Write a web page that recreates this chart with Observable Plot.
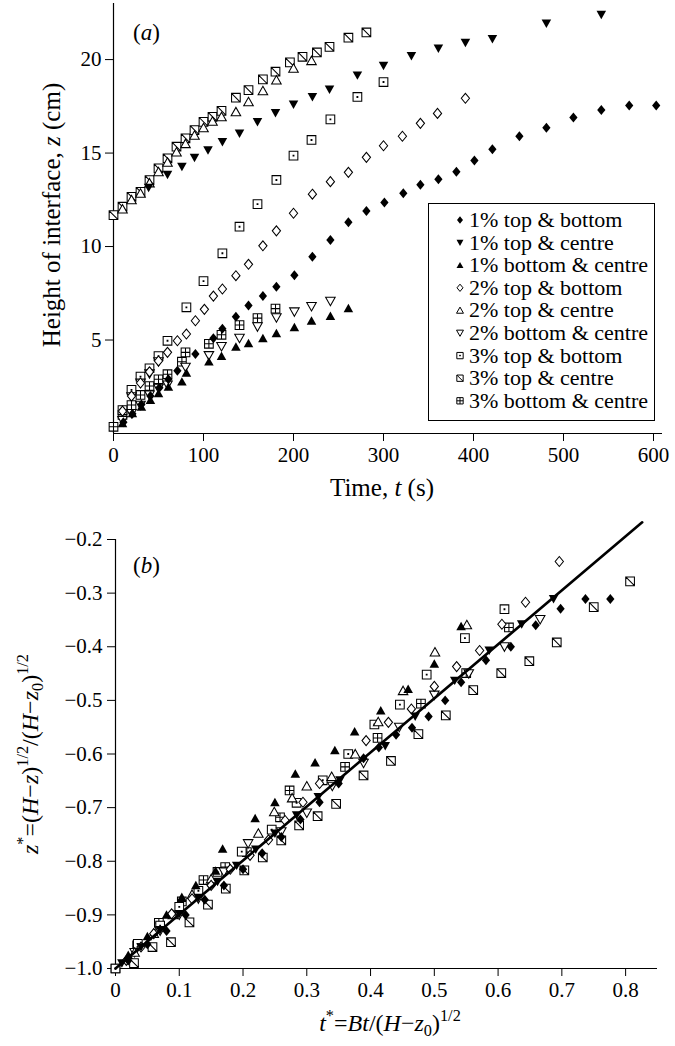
<!DOCTYPE html>
<html>
<head>
<meta charset="utf-8">
<script src="https://cdn.jsdelivr.net/npm/d3@7"></script>
<script src="https://cdn.jsdelivr.net/npm/@observablehq/plot@0.6"></script>
<style>
  html, body { margin: 0; padding: 0; background: #fff; }
  #chart { width: 675px; }
  #chart svg { display: block; }
</style>
</head>
<body>
<div id="chart"></div>
<script>
// ---------- labels ----------
const seriesLabels = ["1% top & bottom", "1% top & centre", "1% bottom & centre",
  "2% top & bottom", "2% top & centre", "2% bottom & centre",
  "3% top & bottom", "3% top & centre", "3% bottom & centre"];

// ---------- panel (a): Time t (s) vs height z (cm) ----------
const tA1 = [11, 21, 31, 41, 51, 61, 71, 91, 111, 121, 136, 150, 166, 181, 201, 221, 241, 261, 281, 301, 322, 341, 361, 381, 401, 421, 451, 481, 511, 542, 573, 603];
const zA1 = [0.6, 1.05, 1.55, 2.0, 2.45, 2.9, 3.36, 4.25, 5.09, 5.6, 6.25, 6.85, 7.35, 7.85, 8.46, 9.46, 10.35, 11.3, 11.9, 12.35, 12.85, 13.3, 13.6, 14.0, 14.6, 15.2, 15.9, 16.35, 16.9, 17.3, 17.55, 17.55];
const tA2 = [39, 60, 76, 90, 105, 121, 140, 160, 180, 200, 221, 240, 271, 300, 331, 361, 391, 421, 481, 542];
const zA2 = [13.15, 13.85, 14.27, 14.75, 15.16, 15.6, 16.05, 16.66, 17.15, 17.6, 18.0, 18.4, 19.16, 19.67, 20.2, 20.6, 20.9, 21.1, 21.93, 22.4];
const tA3 = [10, 21, 31, 41, 50, 61, 76, 81, 106, 120, 136, 150, 166, 181, 201, 220, 241, 261];
const zA3 = [0.55, 1.08, 1.43, 1.79, 2.15, 2.5, 2.77, 3.25, 3.84, 4.14, 4.64, 4.82, 5.09, 5.36, 5.68, 6.03, 6.28, 6.7];
const tA4 = [10, 20, 30, 40, 50, 60, 71, 81, 91, 101, 111, 121, 136, 150, 166, 181, 200, 221, 241, 261, 281, 300, 321, 341, 360, 391];
const zA4 = [1.2, 2.0, 2.7, 3.3, 3.88, 4.34, 4.96, 5.32, 6.03, 6.64, 7.35, 7.73, 8.44, 9.05, 10.04, 10.84, 11.78, 12.8, 13.47, 13.97, 14.77, 15.39, 15.9, 16.59, 17.12, 17.93];
const tA5 = [10, 20, 30, 40, 50, 60, 70, 80, 90, 100, 110, 120, 136, 150, 166, 181, 200, 220];
const zA5 = [12.0, 12.5, 12.85, 13.4, 14.0, 14.5, 15.05, 15.5, 15.95, 16.35, 16.7, 16.94, 17.2, 17.74, 18.33, 18.9, 19.53, 19.94];
const tA6 = [10, 20, 20, 30, 30, 40, 40, 50, 50, 60, 80, 106, 120, 140, 160, 181, 201, 220, 241];
const zA6 = [0.7, 1.08, 1.97, 1.52, 2.7, 2.06, 3.2, 2.42, 3.84, 2.6, 3.55, 4.17, 4.66, 5.1, 5.71, 6.2, 6.51, 6.8, 7.08];
const tA7 = [10, 20, 30, 40, 50, 60, 81, 100, 121, 140, 160, 181, 200, 220, 241, 271, 300];
const zA7 = [1.25, 2.33, 3.04, 3.49, 4.14, 4.96, 6.75, 8.15, 9.64, 11.06, 12.27, 13.56, 14.86, 15.7, 16.8, 18.0, 18.8];
const tA8 = [0, 10, 20, 30, 40, 50, 60, 70, 80, 90, 100, 110, 120, 136, 150, 166, 180, 196, 210, 226, 240, 261, 281];
const zA8 = [11.68, 12.13, 12.66, 12.93, 13.55, 14.18, 14.72, 15.34, 15.79, 16.23, 16.67, 16.94, 17.26, 17.96, 18.37, 18.94, 19.35, 19.85, 20.15, 20.38, 20.68, 21.17, 21.45];
const tA9 = [0, 10, 20, 30, 40, 50, 60, 76, 80, 106, 120, 140, 160, 180];
const zA9 = [0.36, 0.99, 1.52, 2.06, 2.54, 2.9, 3.17, 3.84, 4.34, 4.8, 5.28, 5.8, 6.17, 6.68];

const xTicksA = [0, 100, 200, 300, 400, 500, 600];
const yTicksA = [5, 10, 15, 20];

// ---------- panel (b): t* vs z* ----------
const tB1 = [0.02, 0.05, 0.08, 0.11, 0.14, 0.17, 0.2, 0.23, 0.26, 0.29, 0.32, 0.35, 0.389, 0.413, 0.44, 0.465, 0.491, 0.517, 0.542, 0.581, 0.62, 0.659, 0.698, 0.737, 0.776];
const zB1 = [-0.985, -0.955, -0.93, -0.9, -0.872, -0.845, -0.815, -0.785, -0.755, -0.722, -0.69, -0.655, -0.608, -0.588, -0.564, -0.551, -0.53, -0.5, -0.466, -0.425, -0.4, -0.36, -0.329, -0.311, -0.311];
const tB2 = [0.01, 0.04, 0.07, 0.1, 0.13, 0.16, 0.19, 0.22, 0.25, 0.284, 0.318, 0.352, 0.423, 0.47, 0.532, 0.586, 0.637, 0.687];
const zB2 = [-0.99, -0.96, -0.928, -0.898, -0.868, -0.838, -0.808, -0.778, -0.748, -0.714, -0.68, -0.649, -0.585, -0.53, -0.463, -0.407, -0.358, -0.311];
const tB3 = [0.02, 0.05, 0.08, 0.104, 0.126, 0.157, 0.168, 0.219, 0.25, 0.282, 0.313, 0.344, 0.375, 0.416, 0.459, 0.5, 0.542];
const zB3 = [-0.975, -0.94, -0.9, -0.867, -0.845, -0.818, -0.777, -0.72, -0.69, -0.637, -0.616, -0.593, -0.558, -0.519, -0.479, -0.432, -0.362];
const tB4 = [0.017, 0.04, 0.06, 0.088, 0.12, 0.15, 0.18, 0.211, 0.24, 0.266, 0.294, 0.32, 0.393, 0.428, 0.464, 0.5, 0.535, 0.571, 0.606, 0.643, 0.696];
const zB4 = [-0.985, -0.96, -0.935, -0.898, -0.87, -0.845, -0.815, -0.789, -0.76, -0.724, -0.69, -0.655, -0.575, -0.541, -0.516, -0.474, -0.437, -0.407, -0.358, -0.317, -0.241];
const tB5 = [0.03, 0.06, 0.09, 0.12, 0.15, 0.224, 0.249, 0.277, 0.3, 0.339, 0.376, 0.412, 0.451, 0.501, 0.551];
const zB5 = [-0.97, -0.935, -0.9, -0.862, -0.833, -0.748, -0.708, -0.682, -0.66, -0.642, -0.6, -0.54, -0.482, -0.41, -0.359];
const tB6 = [0.03, 0.07, 0.1, 0.13, 0.17, 0.208, 0.26, 0.3, 0.34, 0.389, 0.445, 0.5, 0.554, 0.61, 0.666];
const zB6 = [-0.97, -0.93, -0.9, -0.87, -0.82, -0.767, -0.745, -0.71, -0.66, -0.617, -0.55, -0.49, -0.45, -0.4, -0.349];
const tB7 = [0, 0.035, 0.07, 0.1, 0.13, 0.16, 0.198, 0.245, 0.284, 0.325, 0.365, 0.406, 0.446, 0.488, 0.548, 0.61];
const zB7 = [-1.0, -0.954, -0.92, -0.885, -0.855, -0.82, -0.782, -0.741, -0.691, -0.649, -0.6, -0.545, -0.508, -0.452, -0.384, -0.33];
const tB8 = [0.029, 0.058, 0.087, 0.116, 0.145, 0.173, 0.202, 0.231, 0.26, 0.288, 0.317, 0.346, 0.389, 0.432, 0.475, 0.518, 0.561, 0.605, 0.649, 0.692, 0.75, 0.807];
const zB8 = [-0.99, -0.96, -0.951, -0.914, -0.881, -0.851, -0.817, -0.793, -0.761, -0.733, -0.716, -0.693, -0.64, -0.613, -0.563, -0.528, -0.481, -0.449, -0.427, -0.392, -0.326, -0.278];
const tB9 = [0, 0.034, 0.068, 0.104, 0.138, 0.172, 0.206, 0.258, 0.273, 0.36, 0.411, 0.479, 0.55, 0.617];
const zB9 = [-1.0, -0.957, -0.915, -0.875, -0.835, -0.811, -0.783, -0.718, -0.668, -0.624, -0.57, -0.506, -0.449, -0.364];

// fitted line (end points)
const fitT = [0, 0.826];
const fitZ = [-1.0, -0.168];

const xTicksB = [0, 0.1, 0.2, 0.3, 0.4, 0.5, 0.6, 0.7, 0.8];
const yTicksB = [-1.0, -0.9, -0.8, -0.7, -0.6, -0.5, -0.4, -0.3, -0.2];

// ---------- custom symbols ----------
function sq(c, h) { c.moveTo(-h, -h); c.lineTo(h, -h); c.lineTo(h, h); c.lineTo(-h, h); c.closePath(); }
const symDiamond = { draw(c, s) { const h = Math.sqrt(s) / 2; c.moveTo(0, -h * 1.15); c.lineTo(h * 0.95, 0); c.lineTo(0, h * 1.15); c.lineTo(-h * 0.95, 0); c.closePath(); } };
const symTriUp = { draw(c, s) { const h = Math.sqrt(s) / 2; c.moveTo(0, -h * 1.05); c.lineTo(h * 1.1, h * 0.9); c.lineTo(-h * 1.1, h * 0.9); c.closePath(); } };
const symTriDown = { draw(c, s) { const h = Math.sqrt(s) / 2; c.moveTo(0, h * 1.05); c.lineTo(h * 1.1, -h * 0.9); c.lineTo(-h * 1.1, -h * 0.9); c.closePath(); } };
const symSqDot = { draw(c, s) { const h = Math.sqrt(s) / 2; sq(c, h); c.moveTo(-0.4, -0.4); c.lineTo(0.4, -0.4); c.lineTo(0.4, 0.4); c.lineTo(-0.4, 0.4); c.closePath(); } };
const symSqDiag = { draw(c, s) { const h = Math.sqrt(s) / 2; sq(c, h); c.moveTo(-h, -h); c.lineTo(h, h); } };
const symSqPlus = { draw(c, s) { const h = Math.sqrt(s) / 2; sq(c, h); c.moveTo(0, -h); c.lineTo(0, h); c.moveTo(-h, 0); c.lineTo(h, 0); } };

const styles = [
  { symbol: symDiamond, filled: true },
  { symbol: symTriDown, filled: true },
  { symbol: symTriUp, filled: true },
  { symbol: symDiamond, filled: false },
  { symbol: symTriUp, filled: false },
  { symbol: symTriDown, filled: false },
  { symbol: symSqDot, filled: false },
  { symbol: symSqDiag, filled: false },
  { symbol: symSqPlus, filled: false }
];

const pairsA = [[tA1, zA1], [tA2, zA2], [tA3, zA3], [tA4, zA4], [tA5, zA5], [tA6, zA6], [tA7, zA7], [tA8, zA8], [tA9, zA9]];
const pairsB = [[tB1, zB1], [tB2, zB2], [tB3, zB3], [tB4, zB4], [tB5, zB5], [tB6, zB6], [tB7, zB7], [tB8, zB8], [tB9, zB9]];
const drawOrder = [8, 7, 6, 5, 4, 3, 2, 1, 0];

function dotMarks(pairs) {
  return drawOrder.map(i => {
    const [ts, zs] = pairs[i];
    const data = ts.map((t, k) => ({ t, z: zs[k] }));
    const st = styles[i];
    return Plot.dot(data, {
      x: "t", y: "z", symbol: st.symbol, r: 4.9,
      fill: st.filled ? "black" : "white",
      stroke: st.filled ? "none" : "black",
      strokeWidth: 1.05
    });
  });
}

const FONT = "'Liberation Serif', 'Times New Roman', serif";

// ---------- panel (a) ----------
const plotA = Plot.plot({
  width: 675, height: 505,
  marginLeft: 113, marginRight: 13, marginTop: 3, marginBottom: 72,
  x: { domain: [0, 610] },
  y: { domain: [0, 23] },
  style: { fontFamily: FONT, fontSize: "21px", background: "white", color: "black", overflow: "visible" },
  marks: [
    Plot.ruleY([0], { stroke: "black", strokeWidth: 1.2 }),
    Plot.ruleX([0], { stroke: "black", strokeWidth: 1.2 }),
    Plot.axisX({ ticks: xTicksA, tickSize: 8, tickPadding: 6, label: null, tickFormat: d => String(d) }),
    Plot.axisY({ ticks: yTicksA, tickSize: 8, tickPadding: 4, label: null, tickFormat: d => String(d) }),
    ...dotMarks(pairsA)
  ]
});

// ---------- panel (b) ----------
const fitData = fitT.map((t, k) => ({ t, z: fitZ[k] }));
const plotB = Plot.plot({
  width: 675, height: 541,
  marginLeft: 115, marginRight: 18, marginTop: 34, marginBottom: 78,
  x: { domain: [0, 0.85] },
  y: { domain: [-1.0, -0.2] },
  style: { fontFamily: FONT, fontSize: "21px", background: "white", color: "black", overflow: "visible" },
  marks: [
    Plot.ruleY([-1.0], { stroke: "black", strokeWidth: 1.2 }),
    Plot.ruleX([0], { stroke: "black", strokeWidth: 1.2 }),
    Plot.axisX({ ticks: xTicksB, tickSize: 8, tickPadding: 6, label: null, tickFormat: d => d === 0 ? "0" : d3.format(".1f")(d) }),
    Plot.axisY({ ticks: yTicksB, tickSize: 8, tickPadding: 5, label: null, tickFormat: d => d3.format(".1f")(d) }),
    ...dotMarks(pairsB),
    Plot.line(fitData, { x: "t", y: "z", stroke: "black", strokeWidth: 2.6 })
  ]
});

const chart = document.getElementById("chart");
chart.appendChild(plotA);
chart.appendChild(plotB);

// ---------- rich text labels ----------
function richText(svg, x, y, rotate, parts, size, anchor = "middle") {
  const t = d3.select(svg).append("text")
    .attr("transform", `translate(${x},${y})` + (rotate ? ` rotate(${rotate})` : ""))
    .attr("text-anchor", anchor)
    .attr("font-family", FONT)
    .attr("font-size", size)
    .attr("fill", "black");
  let shift = 0;
  for (const p of parts) {
    const [str, kind] = p;
    const ts = t.append("tspan").text(str);
    let target = 0, fs = size;
    if (kind && kind.includes("sup")) { target = -size * 0.42; fs = size * 0.68; }
    if (kind && kind.includes("sub")) { target = size * 0.22; fs = size * 0.68; }
    if (kind && kind.includes("i")) ts.attr("font-style", "italic");
    ts.attr("font-size", fs);
    if (target !== shift) { ts.attr("dy", target - shift); shift = target; }
  }
  return t;
}

// Panel (a) labels
richText(plotA, 60, 215, -90, [["Height of interface, "], ["z", "i"], [" (cm)"]], 25);
richText(plotA, 382, 496, 0, [["Time, "], ["t", "i"], [" (s)"]], 25);
richText(plotA, 133, 40, 0, [["("], ["a", "i"], [")"]], 23, "start");

// Panel (b) labels
richText(plotB, 38, 249, -90, [
  ["z", "i"], ["*", "sup"], ["=("], ["H", "i"], ["\u2212"], ["z", "i"], [")"], ["1/2", "sup"],
  ["/("], ["H", "i"], ["\u2212"], ["z", "i"], ["0", "sub"], [")"], ["1/2", "sup"]
], 24);
richText(plotB, 390, 526, 0, [
  ["t", "i"], ["*", "sup"], ["="], ["Bt", "i"], ["/("], ["H", "i"], ["\u2212"], ["z", "i"], ["0", "sub"], [")"], ["1/2", "sup"]
], 24);
richText(plotB, 133, 68, 0, [["("], ["b", "i"], [")"]], 23, "start");

// ---------- legend in panel (a) ----------
const lg = d3.select(plotA).append("g").attr("font-family", FONT).attr("font-size", 22).attr("text-anchor", "start");
lg.append("rect").attr("x", 428.5).attr("y", 203.5).attr("width", 226).attr("height", 217)
  .attr("fill", "white").attr("stroke", "black").attr("stroke-width", 1);
seriesLabels.forEach((lab, i) => {
  const cy = 220 + i * 22.6;
  const st = styles[i];
  const p = d3.path();
  st.symbol.draw(p, 40);
  lg.append("path").attr("d", p.toString())
    .attr("transform", `translate(460,${cy})`)
    .attr("fill", st.filled ? "black" : "white")
    .attr("stroke", st.filled ? "none" : "black")
    .attr("stroke-width", 1);
  lg.append("text").attr("x", 469).attr("y", cy + 7).attr("text-anchor", "start").text(lab);
});
</script>
</body>
</html>
